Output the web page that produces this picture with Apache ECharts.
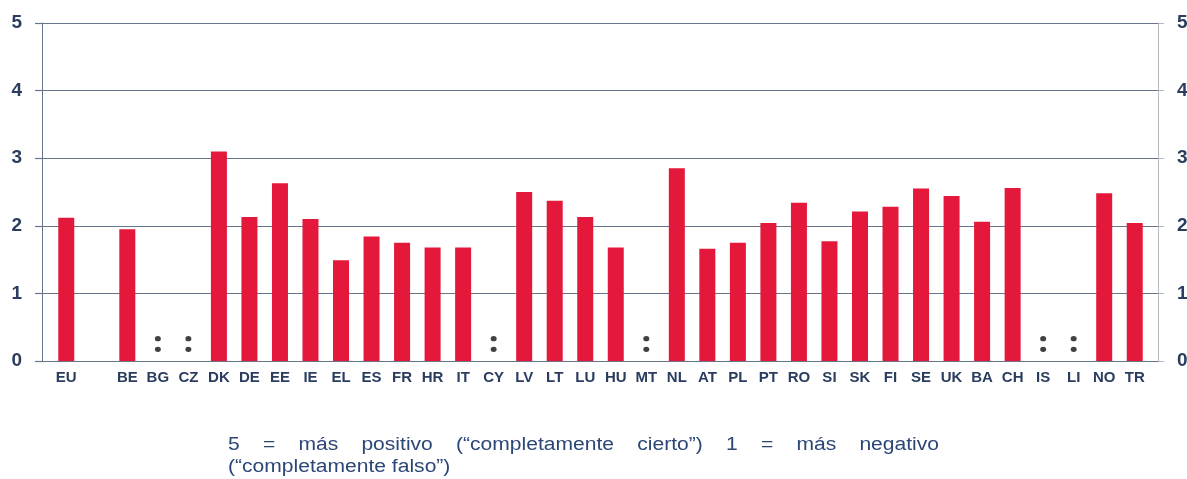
<!DOCTYPE html>
<html>
<head>
<meta charset="utf-8">
<script src="https://cdn.jsdelivr.net/npm/echarts@6/dist/echarts.min.js"></script>
<style>
    html, body { margin: 0; padding: 0; background: #fff; }
    #main { width: 1187px; height: 479px; }
</style>
</head>
<body>
<div id="main"></div>
<script>
    // categories (the empty one is the gap after EU)
    var categories = ['EU', '', 'BE', 'BG', 'CZ', 'DK', 'DE', 'EE', 'IE', 'EL', 'ES', 'FR', 'HR', 'IT', 'CY', 'LV',
        'LT', 'LU', 'HU', 'MT', 'NL', 'AT', 'PL', 'PT', 'RO', 'SI', 'SK', 'FI', 'SE', 'UK', 'BA', 'CH', 'IS', 'LI', 'NO', 'TR'];
    var scores = [2.12, null, 1.95, null, null, 3.10, 2.13, 2.63, 2.10, 1.49, 1.84, 1.75, 1.68, 1.68, null, 2.50,
        2.37, 2.13, 1.68, null, 2.85, 1.66, 1.75, 2.04, 2.34, 1.77, 2.21, 2.28, 2.55, 2.44, 2.06, 2.56, null, null, 2.48, 2.04];
    // ":" = no data
    var noData = ['BG', 'CZ', 'CY', 'MT', 'IS', 'LI'];
    var note1 = '5 = más positivo (“completamente cierto”) 1 = más negativo';
    var note2 = '(“completamente falso”)';

    var navy = '#2a3d5e';
    var lineCol = '#66758a';
    var font = '"Liberation Sans", Arial, sans-serif';

    var dom = document.getElementById('main');
    var myChart = echarts.init(dom);

    var barData = scores.map(function (v) { return v == null ? '-' : v; });
    var dotData = categories.map(function (c) { return noData.indexOf(c) >= 0 ? 0 : '-'; });

    // justified first line of the note
    var noteFont = '18px "Liberation Sans", Arial, sans-serif';
    var stretch = 1.17;
    var ctx = document.createElement('canvas').getContext('2d');
    ctx.font = noteFont;
    var words = note1.split(' ');
    var widths = words.map(function (w) { return ctx.measureText(w).width * stretch; });
    var total = widths.reduce(function (a, b) { return a + b; }, 0);
    var left = 228, right = 939;
    var gap = (right - left - total) / (words.length - 1);
    var graphics = [];
    var x = left;
    for (var i = 0; i < words.length; i++) {
        graphics.push({
            type: 'text', x: x, y: 445, scaleX: stretch,
            style: { text: words[i], font: noteFont, fill: '#2c4676', textVerticalAlign: 'middle' }
        });
        x += widths[i] + gap;
    }
    graphics.push({
        type: 'text', x: left, y: 467, scaleX: stretch,
        style: { text: note2, font: noteFont, fill: '#2c4676', textVerticalAlign: 'middle' }
    });

    var yLabel = { color: navy, fontFamily: font, fontWeight: 'bold', fontSize: 19 };

    option = {
        animation: false,
        grid: [
            {left: 42, right: 29, top: 23, bottom: 118, outerBoundsMode: 'none'},
            {left: 51, right: 37, top: 23, bottom: 118, outerBoundsMode: 'none'}
        ],
        xAxis: [
            {
                gridIndex: 0, type: 'value', min: 0, max: 1,
                axisLine: {show: true, lineStyle: {color: lineCol, width: 1.2}},
                axisTick: {show: false}, axisLabel: {show: false}, splitLine: {show: false}
            },
            {
                gridIndex: 1, type: 'category', data: categories,
                axisLine: {show: false}, axisTick: {show: false},
                axisLabel: {interval: 0, margin: 9, color: navy, fontFamily: font, fontWeight: 'bold', fontSize: 15}
            }
        ],
        yAxis: [
            {
                gridIndex: 0, type: 'value', min: 0, max: 5, interval: 1, position: 'left',
                axisLine: {show: true, lineStyle: {color: lineCol}},
                axisTick: {show: true, length: 7, lineStyle: {color: lineCol, width: 1.2}},
                splitLine: {show: true, lineStyle: {color: lineCol, width: 1.2}},
                axisLabel: Object.assign({margin: 20}, yLabel)
            },
            {
                gridIndex: 0, type: 'value', min: 0, max: 5, interval: 1, position: 'right',
                axisLine: {show: true, lineStyle: {color: '#b4b8be'}},
                axisTick: {show: true, length: 6, lineStyle: {color: '#b4b8be'}},
                splitLine: {show: false},
                axisLabel: Object.assign({margin: 19}, yLabel)
            },
            {
                gridIndex: 1, type: 'value', min: 0, max: 5, show: false
            }
        ],
        series: [
            {
                type: 'bar', xAxisIndex: 1, yAxisIndex: 2, data: barData, barWidth: 16,
                itemStyle: {color: '#e3183a'}
            },
            {
                type: 'scatter', xAxisIndex: 1, yAxisIndex: 2, data: dotData,
                symbol: 'path://M0,2.5a2.5,2.5 0 1,0 5,0a2.5,2.5 0 1,0 -5,0zM0,12.5a2.5,2.5 0 1,0 5,0a2.5,2.5 0 1,0 -5,0z',
                symbolSize: [6, 16], symbolOffset: [0, -17],
                itemStyle: {color: '#111'}
            }
        ],
        graphic: graphics
    };
    myChart.setOption(option);
</script>
</body>
</html>
